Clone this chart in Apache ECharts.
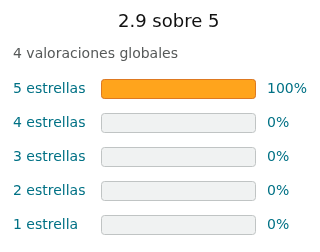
<!DOCTYPE html>
<html><head><meta charset="utf-8">
<script src="https://cdn.jsdelivr.net/npm/echarts@6/dist/echarts.min.js"></script>
<style>html,body{margin:0;padding:0;background:#fff}#c{width:320px;height:252px}</style>
</head><body><div id="c"></div>
<script>
const rating = 2.9;
const totalReviews = 4;
const categories = ['5 estrellas','4 estrellas','3 estrellas','2 estrellas','1 estrella'];
const percents = [100, 0, 0, 0, 0];
const fullScale = [100, 100, 100, 100, 100];

const chart = echarts.init(document.getElementById('c'), null, {renderer:'canvas'});
chart.setOption({
  animation:false,
  textStyle:{fontFamily:'DejaVu Sans'},
  title:[
    {text: rating + ' sobre 5', left:118, top:13, padding:0, textStyle:{fontSize:18, fontWeight:'normal', color:'#111', fontFamily:'DejaVu Sans'}},
    {text: totalReviews + ' valoraciones globales', left:13, top:47, padding:0, textStyle:{fontSize:14, fontWeight:'normal', color:'#565959', fontFamily:'DejaVu Sans'}}
  ],
  grid:{left:101, right:64, top:72, bottom:10},
  xAxis:{type:'value', min:0, max:100, show:false},
  yAxis:{type:'category', data:categories, inverse:true,
    axisLine:{show:false}, axisTick:{show:false},
    axisLabel:{align:'left', margin:88, fontSize:14, color:'#007185', fontFamily:'DejaVu Sans'}},
  series:[
    {type:'bar', data:fullScale, barWidth:20, silent:true,
     itemStyle:{color:'#f0f2f2', borderColor:'#c0c4c4', borderWidth:1, borderRadius:3},
     label:{show:true, position:'right', distance:11, fontSize:14, color:'#007185', fontFamily:'DejaVu Sans',
       formatter:p=>percents[p.dataIndex]+'%'}},
    {type:'bar', barWidth:20, barGap:'-100%',
     data:percents.map(v=>({value:v, itemStyle:{borderWidth: v>0?1:0}})),
     itemStyle:{color:'#ffa41c', borderColor:'#de7921', borderRadius:3}}
  ]
});
</script></body></html>
